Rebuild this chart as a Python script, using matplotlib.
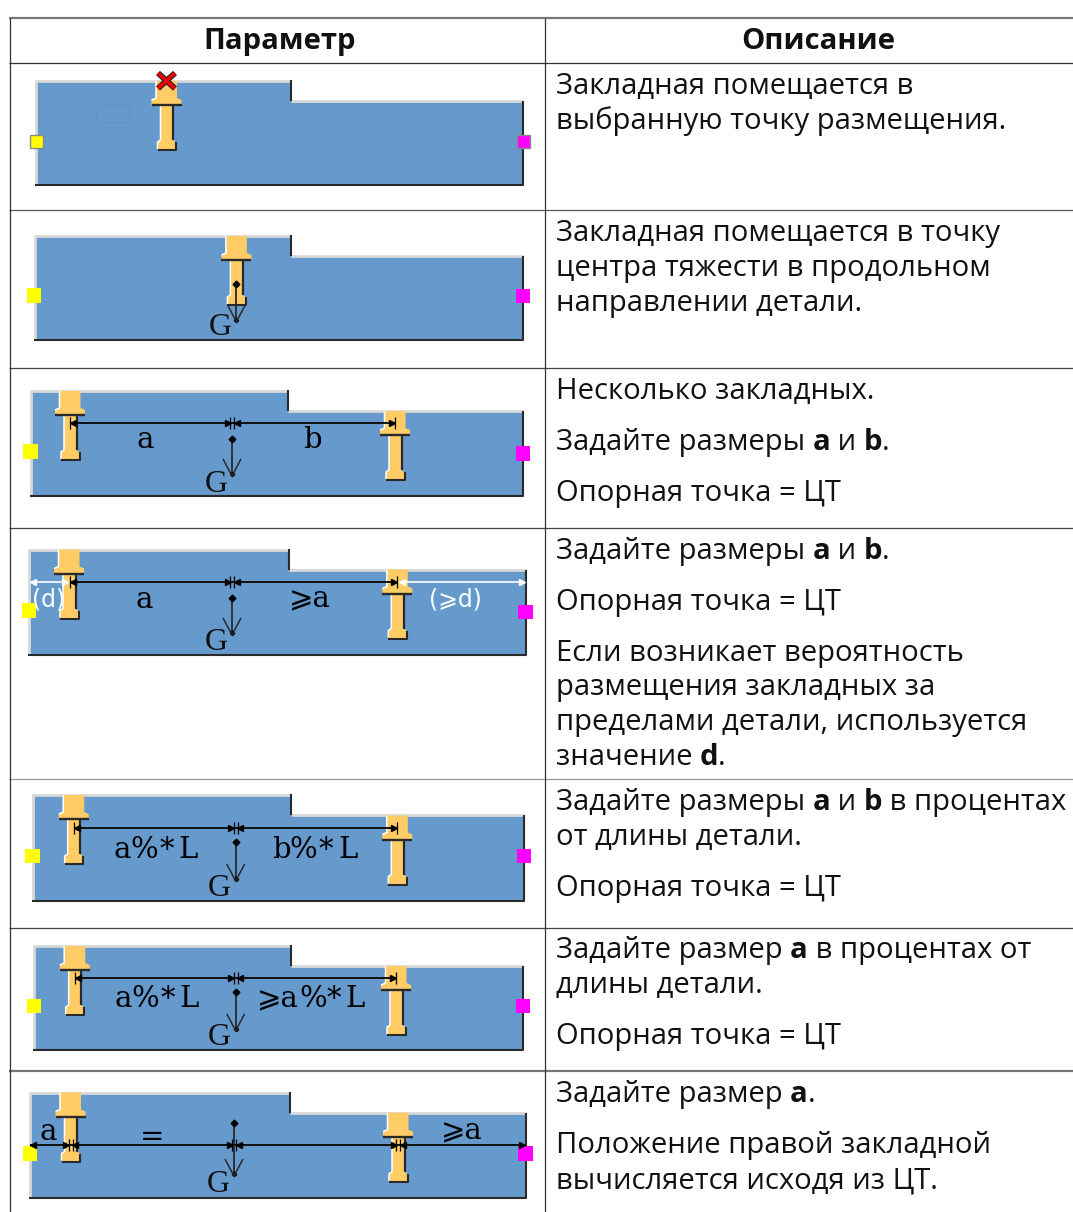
import matplotlib
matplotlib.use('Agg')
from matplotlib import pyplot as plt
from matplotlib.patches import Polygon, Rectangle

plt.rcParams['font.family'] = ['Open Sans', 'DejaVu Sans']

# texts of the table
headers = ['Параметр', 'Описание']
# each line is a list of (text, bold) runs, next to its baseline
desc_lines = [
    (94, [('Закладная помещается в', 0)]),
    (129, [('выбранную точку размещения.', 0)]),
    (241, [('Закладная помещается в точку', 0)]),
    (276, [('центра тяжести в продольном', 0)]),
    (311, [('направлении детали.', 0)]),
    (399, [('Несколько закладных.', 0)]),
    (450, [('Задайте размеры ', 0), ('a', 1), (' и ', 0), ('b', 1), ('.', 0)]),
    (501, [('Опорная точка = ЦТ', 0)]),
    (559, [('Задайте размеры ', 0), ('a', 1), (' и ', 0), ('b', 1), ('.', 0)]),
    (610, [('Опорная точка = ЦТ', 0)]),
    (661, [('Если возникает вероятность', 0)]),
    (695, [('размещения закладных за', 0)]),
    (730, [('пределами детали, используется', 0)]),
    (765, [('значение ', 0), ('d', 1), ('.', 0)]),
    (810, [('Задайте размеры ', 0), ('a', 1), (' и ', 0), ('b', 1), (' в процентах', 0)]),
    (845, [('от длины детали.', 0)]),
    (896, [('Опорная точка = ЦТ', 0)]),
    (958, [('Задайте размер ', 0), ('a', 1), (' в процентах от', 0)]),
    (993, [('длины детали.', 0)]),
    (1044, [('Опорная точка = ЦТ', 0)]),
    (1102, [('Задайте размер ', 0), ('a', 1), ('.', 0)]),
    (1153, [('Положение правой закладной', 0)]),
    (1188, [('вычисляется исходя из ЦТ.', 0)]),
]

# table lines
row_lines = [63, 210, 368, 528, 779, 928]
row_colors = ['#333333', '#555555', '#444444', '#444444', '#999999', '#444444']

# plates, one row per picture: left, right, top, step x, lower top, bottom
plates = [
    [36, 523, 81, 291, 100.5, 185],
    [34.5, 523, 236, 291, 256, 339.5],
    [30.6, 523, 391, 288, 411, 496],
    [29, 525.5, 549.5, 289, 569.5, 655],
    [32.7, 524, 795, 290.6, 815, 900.7],
    [34, 523, 946, 290.6, 965.5, 1050],
    [30, 525.5, 1092.5, 290, 1112.7, 1197.7],
]
yellow_pts = [(36.8, 141), (34, 295.7), (30.6, 451.7), (29, 610.7), (32.3, 856), (34, 1006), (30, 1153.3)]
magenta_pts = [(523, 141), (523, 296), (523, 453.3), (525.5, 612), (524, 856), (523, 1006), (525.5, 1153.3)]
# inserts: centre x, top
inserts = [
    [(166.5, 81)],
    [(236.4, 236)],
    [(70, 391), (395, 411)],
    [(69, 549.5), (397.3, 569.5)],
    [(73.7, 795), (397.3, 815.5)],
    [(74.7, 946), (396, 966)],
    [(70.5, 1092.5), (398, 1112.7)],
]
# gravity arrows: x, dot y, tip y, G x, G y
gravity = [
    None,
    (236.4, 283.7, 321.7, 220, 327.5),
    (232, 439.3, 476, 216, 484),
    (232, 598.3, 635, 216, 643),
    (235.7, 842.3, 881, 219, 888),
    (235.7, 992, 1030.7, 219.7, 1037.7),
    (234, 1122.7, 1176, 218, 1185),
]
# dimension lines: y, end points, centre ticks, ticks at the ends or not
dim_lines = [
    (423.3, 70, 395, [232], True),
    (582, 70, 397, [232], True),
    (827.7, 74, 397, [235.7], True),
    (977.7, 75, 396, [235.7], True),
    (1145.3, 30, 525, [70.5, 234, 398], False),
]
# wide labels set letter by letter: text, x, y, letter pitch
spaced_labels = [
    ('a%*L', 155.4, 849.5, 22), ('b%*L', 314.6, 849.5, 22),
    ('a%*L', 156.4, 999, 22), ('%*L', 334, 999, 21),
]
# short labels: text, x, y
short_labels = [
    ('a', 145, 440.5), ('b', 312.5, 440.5),
    ('a', 144, 599.5), ('⩾a', 310, 599.5),
    ('⩾a', 278, 999),
    ('a', 48, 1131.5), ('=', 152, 1136.5), ('⩾a', 461.6, 1131.5),
]
white_labels = [('(d)', 49, 599.5), ('(⩾d)', 455, 599.5)]

FILL = '#6699CC'
ORANGE = '#FFCC66'
LIGHT = '#D8D8D8'
DARK = '#2A2A2A'
FONT_PT = 21.05
LABEL_FONT = ['DejaVu Serif', 'DejaVu Sans']

fig = plt.figure(figsize=(10.73, 12.12), dpi=100)
ax = fig.add_axes([0, 0, 1, 1])
ax.set_xlim(0, 1073)
ax.set_ylim(1212, 0)
ax.axis('off')


def seg(xs, ys, color, lw=1.5, z=3):
    ax.plot(xs, ys, color=color, lw=lw, solid_capstyle='butt', zorder=z)


def draw_plate(p):
    l, r, t, s, lt, b = p
    ax.add_patch(Polygon([(l, t), (s, t), (s, lt), (r, lt), (r, b), (l, b)], fc=FILL, ec='none', zorder=2))
    seg([l, l, s], [b, t, t], LIGHT, 2)
    seg([s, r], [lt, lt], LIGHT, 2)
    seg([s, s], [t - 1, lt], DARK, 1.5)
    seg([r, r, l - 1], [lt, b, b], DARK, 1.5)


def draw_insert(cx, y):
    pts = [(cx - 10.5, y), (cx + 10.5, y), (cx + 10.5, y + 17), (cx + 15, y + 19), (cx + 15, y + 24),
           (cx + 6.5, y + 24), (cx + 6.5, y + 59), (cx + 9, y + 61), (cx + 9, y + 68.5), (cx - 9, y + 68.5),
           (cx - 9, y + 61), (cx - 6, y + 59), (cx - 6, y + 24), (cx - 15, y + 24), (cx - 15, y + 19),
           (cx - 10.5, y + 17)]
    ax.add_patch(Polygon(pts, fc=ORANGE, ec='none', zorder=4))
    seg([cx - 10.5, cx - 10.5, cx - 15], [y, y + 17, y + 19], 'white', 1.1, 5)
    seg([cx - 6, cx - 6, cx - 9, cx - 9], [y + 24, y + 59, y + 61, y + 68], 'white', 1.1, 5)
    seg([cx - 15, cx + 15], [y + 24, y + 24], DARK, 1.7, 5)
    seg([cx + 6.5, cx + 6.5], [y + 24, y + 59], DARK, 1.6, 5)
    seg([cx - 9, cx + 9.5, cx + 9.5], [y + 69, y + 69, y + 61], DARK, 1.5, 5)


def draw_gravity(g):
    x, y0, y1, gx, gy = g
    seg([x, x], [y0, y1], DARK, 1.3, 7)
    ax.plot([x], [y0], 'D', color='black', ms=3.4, zorder=7)
    ax.plot([x], [y1 - 2], 'D', color='black', ms=2.2, zorder=7)
    seg([x - 9, x, x + 9], [y1 - 17, y1, y1 - 17], DARK, 1.1, 7)
    ax.text(gx, gy, 'G', family='Liberation Serif', fontsize=23, ha='center', va='center', color='#111111', zorder=7)


def dim_tick(x, y):
    # tick with two small arrow heads pointing at it
    seg([x - 2, x - 2], [y - 6, y + 6], 'black', 0.9, 8)
    seg([x + 2, x + 2], [y - 6, y + 6], 'black', 0.9, 8)
    ax.plot([x - 4.5], [y], '>', color='black', ms=4.5, zorder=8)
    ax.plot([x + 4.5], [y], '<', color='black', ms=4.5, zorder=8)


def draw_dim(y, x0, x1, ticks, end_ticks, color='#111111'):
    seg([x0, x1], [y, y], color, 1.4, 8)
    for tx in ticks:
        dim_tick(tx, y)
    ax.plot([x0 + 3], [y], '<', color='black', ms=4.5, zorder=8)
    ax.plot([x1 - 3], [y], '>', color='black', ms=4.5, zorder=8)
    if end_ticks:
        seg([x0, x0], [y - 6, y + 6], 'black', 0.9, 8)
        seg([x1, x1], [y - 6, y + 6], 'black', 0.9, 8)


def text_width(s, **kw):
    # the dot keeps trailing spaces counted
    r = fig.canvas.get_renderer()
    t1 = ax.text(0, 0, s + '.', **kw)
    t2 = ax.text(0, 0, '.', **kw)
    w = t1.get_window_extent(r).width - t2.get_window_extent(r).width
    t1.remove()
    t2.remove()
    return w


def draw_runs(x, y, runs):
    for s, bold in runs:
        kw = dict(fontsize=FONT_PT, fontweight='bold' if bold else 'normal')
        ax.text(x, y, s, va='baseline', ha='left', color='#111111', **kw)
        x = x + text_width(s, **kw)


# table grid
seg([9, 1073], [18, 18], '#777777', 1.6, 1)
seg([9, 1073], [1071, 1071], '#777777', 1.6, 1)
for yy, c in zip(row_lines, row_colors):
    seg([9, 1073], [yy, yy], c, 0.9, 1)
seg([9.5, 9.5], [18, 1212], '#333333', 0.9, 1)
seg([545, 545], [18, 1212], '#333333', 0.9, 1)

ax.text(280, 49, headers[0], fontsize=FONT_PT, fontweight='bold', ha='center', va='baseline', color='#111111')
ax.text(818, 49, headers[1], fontsize=FONT_PT, fontweight='bold', ha='center', va='baseline', color='#111111')

for base, runs in desc_lines:
    draw_runs(555.5, base, runs)

for i in range(7):
    draw_plate(plates[i])
    for cx, top in inserts[i]:
        draw_insert(cx, top)
    if gravity[i]:
        draw_gravity(gravity[i])
    edge = '#888888' if i == 0 else 'none'
    size = 13 if i == 0 else 14.5
    for (ax_x, ax_y), col in ((yellow_pts[i], '#FFFF00'), (magenta_pts[i], '#FF00FF')):
        ax.add_patch(Rectangle((ax_x - size / 2, ax_y - size / 2), size, size, fc=col, ec=edge, lw=1, zorder=6))

# faint mark in the first plate
ax.add_patch(Rectangle((96, 105), 33, 17, fc='none', ec='#6195C9', lw=1, zorder=3))

# red cross of the first picture
for c, lw in (('#222222', 4.2), ('#EE0000', 2.6)):
    seg([158, 175], [73, 88.5], c, lw, 7)
    seg([175, 158], [73, 88.5], c, lw, 7)

for y, x0, x1, ticks, end_ticks in dim_lines:
    draw_dim(y, x0, x1, ticks, end_ticks)
# white dimension lines for d
seg([31, 68], [582, 582], 'white', 1.2, 6)
seg([400, 524], [582, 582], 'white', 1.2, 6)
ax.plot([402], [582], '<', color='white', ms=4, zorder=6)
ax.plot([522], [582], '>', color='white', ms=4, zorder=6)
ax.plot([33], [582], '<', color='white', ms=4, zorder=6)
ax.plot([65], [582], '>', color='white', ms=4, zorder=6)

for s, x, y in short_labels:
    ax.text(x, y, s, family=LABEL_FONT, fontsize=21, ha='center', va='center', color='black', zorder=9)
for s, x, y, pitch in spaced_labels:
    # these are wide in the source pictures, so the letters go one by one
    start = x - pitch * (len(s) - 1) / 2
    for j, ch in enumerate(s):
        ax.text(start + j * pitch, y, ch, family=LABEL_FONT, fontsize=21, ha='center', va='center', color='black',
                zorder=9)
for s, x, y in white_labels:
    ax.text(x, y, s, family=['DejaVu Sans'], fontsize=17, ha='center', va='center', color='white', zorder=9)

fig.savefig('out.png', dpi=100)
